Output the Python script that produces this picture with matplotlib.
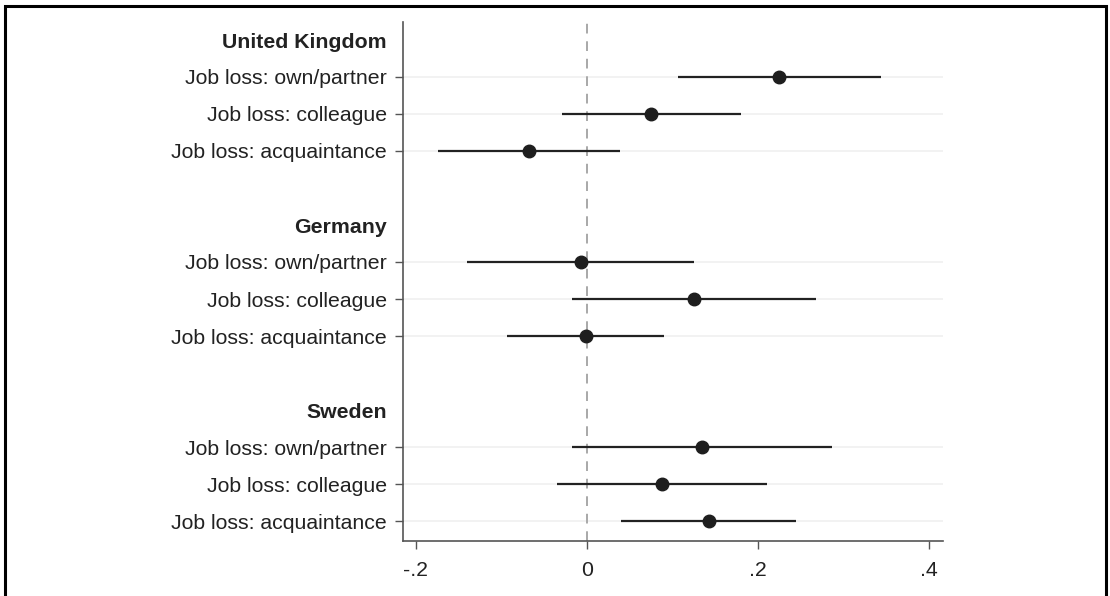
import matplotlib
matplotlib.use("Agg")
import matplotlib.pyplot as plt
from matplotlib.patches import Rectangle
from matplotlib.transforms import blended_transform_factory

plt.rcParams['font.family'] = ['Liberation Sans', 'DejaVu Sans']

countries = ["United Kingdom", "Germany", "Sweden"]
items = ["Job loss: own/partner", "Job loss: colleague", "Job loss: acquaintance"]

coef_uk = [0.225, 0.075, -0.068]
lo_uk = [0.106, -0.029, -0.174]
hi_uk = [0.344, 0.180, 0.039]

coef_de = [-0.007, 0.125, -0.0015]
lo_de = [-0.140, -0.018, -0.094]
hi_de = [0.125, 0.268, 0.090]

coef_se = [0.134, 0.088, 0.143]
lo_se = [-0.018, -0.035, 0.040]
hi_se = [0.287, 0.210, 0.245]

xticks = [-0.2, 0.0, 0.2, 0.4]
xticklabels = ["-.2", "0", ".2", ".4"]

coefs = [coef_uk, coef_de, coef_se]
los = [lo_uk, lo_de, lo_se]
his = [hi_uk, hi_de, hi_se]

W, H = 1110, 596
fig = plt.figure(figsize=(W / 100, H / 100), dpi=100)
fig.patch.set_facecolor("white")
ax = fig.add_axes([403 / W, 1 - 541 / H, (943 - 403) / W, (541 - 22) / H])

FS = 15.3
ytick_pos, ytick_lab, header_pos = [], [], []
for g, country in enumerate(countries):
    base = g * 5
    header_pos.append(base + 0.08)
    for k, it in enumerate(items):
        ytick_pos.append(base + 1 + k)
        ytick_lab.append(it)

# gridlines
for y in ytick_pos:
    ax.axhline(y, color="#f1f1f1", lw=1.3, zorder=0)

# zero line
ax.axvline(0, color="#a8a8a8", lw=1.4, ls=(0, (5, 4)), zorder=1)

for g in range(3):
    ys = [g * 5 + 1 + k for k in range(3)]
    ax.hlines(ys, los[g], his[g], color="#222222", lw=1.6, zorder=2)
    ax.plot(coefs[g], ys, "o", color="#1e1e1e", ms=9, zorder=3)

ax.set_xlim(-0.2152, 0.4164)
ax.set_ylim(13.54, -0.486)
ax.set_xticks(xticks)
ax.set_xticklabels(xticklabels, fontsize=FS, color="#222222")
ax.set_yticks(ytick_pos)
ax.set_yticklabels(ytick_lab, fontsize=FS, color="#222222")
ax.tick_params(axis="y", length=6, width=1, color="#555555", pad=5.5)
ax.tick_params(axis="x", length=6, width=1, color="#555555", pad=8.5)

for s in ["top", "right"]:
    ax.spines[s].set_visible(False)
for s in ["left", "bottom"]:
    ax.spines[s].set_color("#555555")
    ax.spines[s].set_linewidth(1.2)

trans = blended_transform_factory(ax.transAxes, ax.transData)
for y, c in zip(header_pos, countries):
    ax.text(-16 / 540, y, c, transform=trans, ha="right", va="center",
            fontsize=FS, fontweight="bold", color="#222222")

# outer frame
rect = Rectangle((4.5 / W, -0.05), (1105.5 - 4.5) / W, 1 - 5.5 / H + 0.05,
                 transform=fig.transFigure, fill=False, edgecolor="black",
                 lw=2.2, clip_on=False)
fig.patches.append(rect)

fig.savefig("out.png", dpi=100)
